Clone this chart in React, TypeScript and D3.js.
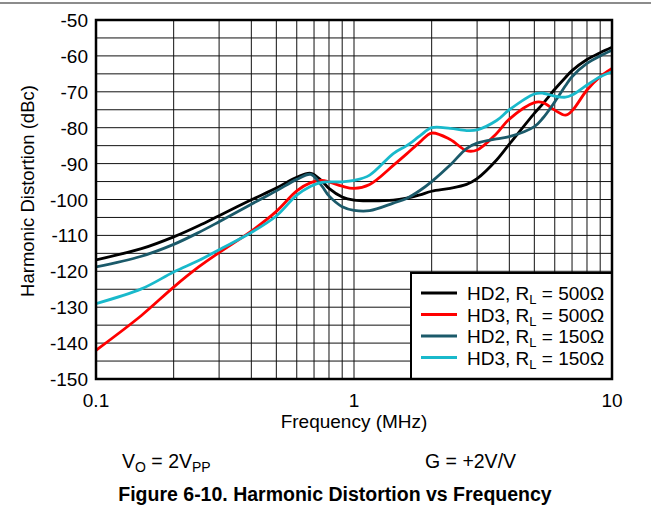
import React from "react";
import * as d3 from "d3";

// Frequency points (MHz) shared by all four traces
const freqs = [
  0.1, 0.15, 0.2, 0.25, 0.3, 0.4, 0.5, 0.6, 0.68, 0.75, 0.8, 0.9, 1.0, 1.15,
  1.42, 1.6, 1.8, 2.0, 2.36, 2.73, 3.0, 3.57, 4.0, 5.0, 5.4, 6.0, 6.6, 7.0,
  8.0, 9.0, 10.0,
];

// Harmonic distortion (dBc) per trace
const hd2R500 = [
  -116.8, -113.7, -110.4, -107.3, -104.5, -100.1, -96.8, -93.8, -92.7, -94.8,
  -96.9, -99.3, -100.2, -100.4, -100.2, -99.6, -98.7, -97.7, -96.9, -95.8,
  -94.2, -89.0, -84.6, -76.0, -73.3, -69.3, -66.0, -64.1, -61.0, -59.1, -57.6,
];
const hd3R500 = [
  -142, -132.3, -124.4, -118.8, -114.8, -108.8, -103.3, -97.6, -95.3, -94.7,
  -95.1, -96.3, -96.9, -95.8, -90.5, -87.3, -84.0, -81.5, -83.3, -86.4,
  -86.2, -81.6, -77.6, -73.0, -73.0, -75.1, -76.5, -75.3, -69.5, -65.8, -63.5,
];
const hd2R150 = [
  -118.8, -115.8, -112.5, -109.2, -106.2, -101.3, -97.6, -94.4, -93.0, -96.2,
  -99.0, -102.0, -103.0, -103.1, -101.0, -99.7, -97.5, -95.0, -90.4, -85.8,
  -84.3, -83.1, -82.5, -79.7, -77.3, -72.8, -68.3, -65.8, -62.1, -60.0, -58.4,
];
const hd3R150 = [
  -129, -124.9, -120.2, -117.0, -114, -109.2, -104.6, -98.8, -96.3, -95.2,
  -95.1, -95.1, -94.7, -93.2, -87.2, -85.0, -82.3, -80.0, -80.2, -80.8,
  -80.6, -78.0, -75.0, -70.6, -70.4, -71.2, -71.5, -70.9, -68.1, -65.8, -64.4,
];

const seriesNames = ["HD2", "HD3", "HD2", "HD3"];
const seriesLoads = ["500", "500", "150", "150"];
const seriesValues = [hd2R500, hd3R500, hd2R150, hd3R150];
const seriesColors = ["#000000", "#ff0000", "#1b5a6a", "#19b9cb"];

const yTicks = [-50, -60, -70, -80, -90, -100, -110, -120, -130, -140, -150];
const xTickLabels = [
  { v: 0.1, t: "0.1" },
  { v: 1, t: "1" },
  { v: 10, t: "10" },
];

const FONT = "'Liberation Sans', Arial, Helvetica, sans-serif";

export default function App() {
  const W = 651;
  const H = 516;
  const left = 96;
  const right = 612;
  const top = 20;
  const bottom = 379;

  const x = d3.scaleLog().domain([0.1, 10]).range([left, right]);
  const y = d3.scaleLinear().domain([-50, -150]).range([top, bottom]);

  // log gridlines: 0.2..0.9, 1..9
  const vGrid: number[] = [];
  for (const dec of [0.1, 1]) {
    for (let k = 1; k <= 9; k++) {
      const f = dec * k;
      if (f > 0.1 && f < 10) vGrid.push(f);
    }
  }
  const hGrid = d3.range(-55, -150, -5);

  const line = d3
    .line<[number, number]>()
    .x((d) => x(d[0]))
    .y((d) => y(d[1]))
    .curve(d3.curveCatmullRom.alpha(0.5));

  const legX = 411;
  const legY = 273;
  const legRows = [300, 321.5, 343, 364.5];

  return (
    <svg
      width={W}
      height={H}
      style={{ position: "absolute", left: 0, top: 0, background: "#fff" }}
      fontFamily={FONT}
    >
      <line x1={0} x2={W} y1={3} y2={3} stroke="#8c8c8c" strokeWidth={2} />

      <defs>
        <clipPath id="plotClip">
          <rect x={left} y={top} width={right - left} height={bottom - top} />
        </clipPath>
      </defs>

      {/* grid */}
      {vGrid.map((f) => (
        <line
          key={"v" + f}
          x1={x(f)}
          x2={x(f)}
          y1={top}
          y2={bottom}
          stroke="#111"
          strokeWidth={1}
        />
      ))}
      {hGrid.map((v) => (
        <line
          key={"h" + v}
          x1={left}
          x2={right}
          y1={y(v)}
          y2={y(v)}
          stroke="#111"
          strokeWidth={1}
        />
      ))}

      {/* traces */}
      <g clipPath="url(#plotClip)">
        {seriesValues.map((vals, i) => (
          <path
            key={i}
            d={line(freqs.map((f, j) => [f, vals[j]] as [number, number])) || ""}
            fill="none"
            stroke={seriesColors[i]}
            strokeWidth={2.8}
            strokeLinejoin="round"
          />
        ))}
      </g>

      {/* legend */}
      <rect
        x={legX}
        y={legY}
        width={right - legX}
        height={bottom - legY}
        fill="#fff"
        stroke="#000"
        strokeWidth={2}
      />
      {seriesNames.map((n, i) => (
        <g key={"leg" + i}>
          <line
            x1={421}
            x2={457}
            y1={legRows[i] - 7}
            y2={legRows[i] - 7}
            stroke={seriesColors[i]}
            strokeWidth={3}
          />
          <text x={467} y={legRows[i]} fontSize={19} fill="#000">
            {n}, R
            <tspan fontSize={13} dy={4}>
              L
            </tspan>
            <tspan dy={-4}> = {seriesLoads[i]}Ω</tspan>
          </text>
        </g>
      ))}

      {/* frame */}
      <rect
        x={left}
        y={top}
        width={right - left}
        height={bottom - top}
        fill="none"
        stroke="#000"
        strokeWidth={2.5}
      />

      {/* y tick labels */}
      {yTicks.map((v) => (
        <text
          key={"yt" + v}
          x={88}
          y={y(v) + 7}
          textAnchor="end"
          fontSize={19}
          fill="#000"
        >
          {v}
        </text>
      ))}

      {/* x tick labels */}
      {xTickLabels.map((t) => (
        <text
          key={"xt" + t.t}
          x={x(t.v)}
          y={407}
          textAnchor="middle"
          fontSize={19}
          fill="#000"
        >
          {t.t}
        </text>
      ))}

      <text x={354} y={428} textAnchor="middle" fontSize={19} fill="#000">
        Frequency (MHz)
      </text>
      <text
        transform="translate(34,191) rotate(-90)"
        textAnchor="middle"
        fontSize={18.5}
        fill="#000"
      >
        Harmonic Distortion (dBc)
      </text>

      <text x={122} y={468} fontSize={19.5} fill="#000">
        V
        <tspan fontSize={14} dy={4}>
          O
        </tspan>
        <tspan dy={-4}> = 2V</tspan>
        <tspan fontSize={14} dy={4}>
          PP
        </tspan>
      </text>
      <text x={425} y={468} fontSize={19.5} fill="#000">
        G = +2V/V
      </text>

      <text
        x={335}
        y={501}
        textAnchor="middle"
        fontSize={19.5}
        fontWeight="bold"
        fill="#000"
      >
        Figure 6-10. Harmonic Distortion vs Frequency
      </text>
    </svg>
  );
}
